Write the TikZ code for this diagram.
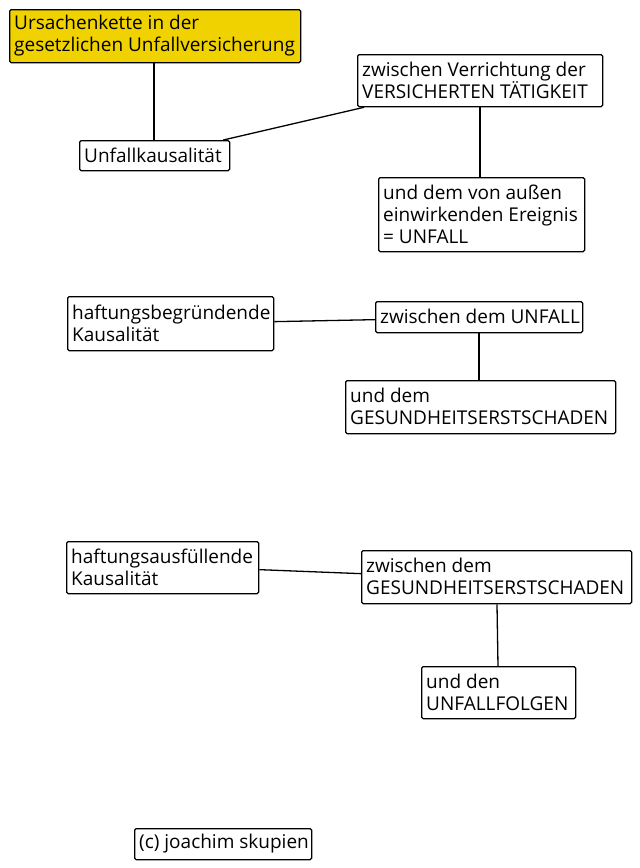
\documentclass[tikz,border=0pt]{standalone}
\usepackage{fontspec}
\setmainfont{Open Sans}
\usetikzlibrary{calc}
\definecolor{titleyellow}{RGB}{240,210,0}
\begin{document}
\begin{tikzpicture}[x=1pt,y=-1pt,
  box/.style={draw=black,line width=1.3pt,rounded corners=1.5pt,fill=white,anchor=north west,
    inner sep=0pt},
  lbl/.style={anchor=west,align=left,inner sep=0pt,font=\fontsize{19}{22}\selectfont},
  conn/.style={line width=1.3pt}]
\useasboundingbox (0,0) rectangle (640,868);
\newcommand{\bx}[7]{% name, x0,y0,x1,y1, text, fill
  \node[box,fill=#7,minimum width={#4-#2},minimum height={#5-#3}] (#1) at (#2,#3) {};
  \node[lbl] (#1t) at (#2+5,{(#3+#5)/2}) {#6};}
\bx{t}{9}{9}{300}{62}{Ursachenkette in der\\gesetzlichen Unfallversicherung}{titleyellow}
\bx{a}{79}{140}{229}{170}{Unfallkausalität}{white}
\bx{b}{357}{54}{602}{106}{zwischen Verrichtung der\\VERSICHERTEN TÄTIGKEIT}{white}
\bx{c}{378}{177}{584}{251}{und dem von außen\\einwirkenden Ereignis\\= UNFALL}{white}
\bx{d}{67}{296}{273}{350}{haftungsbegründende\\Kausalität}{white}
\bx{e}{375}{301}{582}{332}{zwischen dem UNFALL}{white}
\bx{f}{345}{380}{615}{433}{und dem\\GESUNDHEITSERSTSCHADEN}{white}
\bx{g}{66}{541}{258}{593}{haftungsausfüllende\\Kausalität}{white}
\bx{h}{361}{550}{631}{603}{zwischen dem\\GESUNDHEITSERSTSCHADEN}{white}
\bx{i}{421}{666}{575}{718}{und den\\UNFALLFOLGEN}{white}
\bx{j}{134}{828}{311}{859}{(c) joachim skupien}{white}
\draw[conn] ($(t.south west)+(145,0)$) -- ($(a.north west)+(75,0)$);
\draw[conn] ($(a.north east)+(-7,0)$) -- ($(b.south west)+(7,0)$);
\draw[conn] ($(b.south west)+(123,0)$) -- ($(c.north west)+(102,0)$);
\draw[conn] ($(d.east)+(0,-2)$) -- ($(e.west)+(0,2.5)$);
\draw[conn] ($(e.south west)+(104,0)$) -- ($(f.north west)+(134,0)$);
\draw[conn] ($(g.east)+(0,2)$) -- ($(h.west)+(0,-3.5)$);
\draw[conn] ($(h.south west)+(136,0)$) -- ($(i.north west)+(77,0)$);
\end{tikzpicture}
\end{document}
